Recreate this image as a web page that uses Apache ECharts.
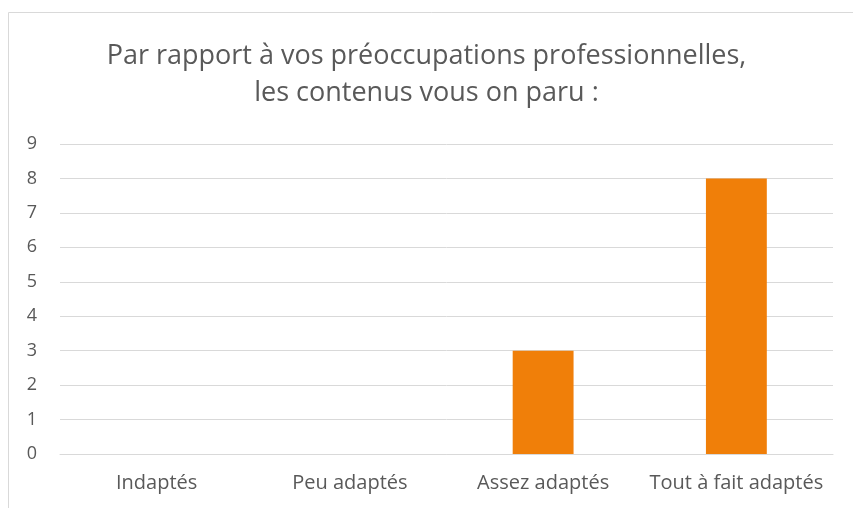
<!DOCTYPE html>
<html>
<head>
<meta charset="utf-8">
<script src="https://cdn.jsdelivr.net/npm/echarts@6/dist/echarts.min.js"></script>
<style>
  html, body { margin: 0; padding: 0; background: #fff; }
  #chart { width: 853px; height: 508px; }
</style>
</head>
<body>
<div id="chart"></div>
<script>
// Données du graphique
var categories = ['Indaptés', 'Peu adaptés', 'Assez adaptés', 'Tout à fait adaptés'];
var reponses = [0, 0, 3, 8];
var yTicks = [0, 1, 2, 3, 4, 5, 6, 7, 8, 9];

var chartDom = document.getElementById('chart');
var myChart = echarts.init(chartDom);

var police = '"Open Sans", "Liberation Sans", sans-serif';

var option = {
    animation: false,
    title: {
        text: 'Par rapport à vos préoccupations professionnelles,\nles contenus vous on paru :',
        left: 'center',
        top: 33,
        textStyle: {
            fontFamily: police,
            fontSize: 27,
            fontWeight: 'normal',
            color: '#595959',
            lineHeight: 37
        }
    },
    graphic: [{
        type: 'rect',
        shape: { x: 8.5, y: 12.5, width: 900, height: 600 },
        style: { fill: 'none', stroke: '#d9d9d9', lineWidth: 1 },
        silent: true
    }],
    grid: { left: 60, right: 20, top: 144, bottom: 54 },
    xAxis: {
        type: 'category',
        data: categories,
        axisLine: { show: true, lineStyle: { color: '#d9d9d9' } },
        axisTick: { show: false },
        axisLabel: {
            fontFamily: police,
            fontSize: 20,
            color: '#595959',
            margin: 19,
            interval: 0
        }
    },
    yAxis: {
        type: 'value',
        min: yTicks[0],
        max: yTicks[yTicks.length - 1],
        interval: 1,
        axisLine: { show: false },
        axisTick: { show: false },
        axisLabel: {
            fontFamily: police,
            fontSize: 18,
            color: '#595959',
            margin: 23
        },
        splitLine: { lineStyle: { color: '#d9d9d9', width: 1 } }
    },
    series: [{
        type: 'bar',
        data: reponses,
        barWidth: '31.5%',
        itemStyle: { color: '#f07f09' }
    }]
};

myChart.setOption(option);

window.addEventListener('resize', function() {
    myChart.resize();
});
</script>
</body>
</html>
